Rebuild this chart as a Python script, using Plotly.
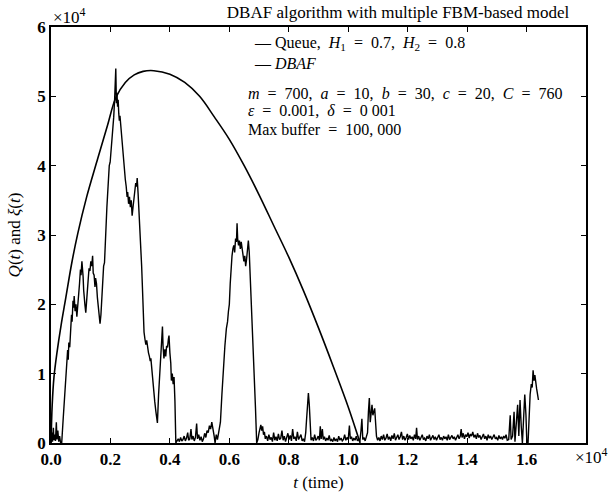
import plotly.graph_objects as go

# ---- data (units of 1e4) ----
queue_t = [
0.000,0.003,0.005,0.008,0.010,0.013,0.015,0.018,0.020,0.023,0.026,0.029,0.032,0.036,
0.041,0.046,0.050,0.053,0.056,0.058,0.060,0.063,0.066,0.069,0.071,0.074,0.076,0.078,
0.081,0.084,0.087,0.090,0.093,0.096,0.099,0.101,0.104,0.106,0.108,0.110,0.112,0.114,
0.117,0.119,0.122,0.125,0.128,0.131,0.134,0.137,0.140,0.142,0.145,0.148,0.150,0.153,
0.156,0.159,0.162,0.165,0.168,0.171,0.174,0.177,0.180,0.183,0.185,0.188,0.190,0.193,
0.196,0.199,0.202,0.205,0.208,0.211,0.214,0.216,0.218,0.220,0.222,0.224,0.226,0.228,
0.230,0.232,0.235,0.238,0.241,0.244,0.247,0.250,0.253,0.256,0.258,0.261,0.264,0.267,
0.270,0.273,0.276,0.279,0.282,0.285,0.288,0.290,0.293,0.296,0.299,0.302,0.305,0.308,
0.310,0.313,0.316,0.319,0.322,0.325,0.328,0.331,0.334,0.336,0.339,0.342,0.345,0.349,
0.353,0.358,0.362,0.366,0.369,0.372,0.375,0.377,0.380,0.383,0.386,0.389,0.392,0.395,
0.397,0.400,0.403,0.405,0.408,0.411,0.414,0.417,0.420,
0.424,0.428,0.432,0.436,0.440,0.444,0.448,0.452,0.456,0.460,0.463,0.467,0.471,0.474,
0.478,0.482,0.486,0.490,0.493,0.497,0.501,0.505,0.509,0.513,0.517,0.521,0.525,0.529,
0.533,0.537,0.541,0.545,0.549,0.552,0.556,0.560,0.564,
0.570,0.575,0.580,0.585,0.590,0.594,0.597,0.600,0.603,0.606,0.609,0.612,0.615,0.618,
0.621,0.624,0.626,0.628,0.631,0.634,0.637,0.640,0.643,0.646,0.649,0.652,0.655,0.658,
0.661,0.664,0.667,0.670,0.673,0.676,0.680,0.684,0.688,0.692,
0.696,0.700,0.703,0.706,0.709,0.712,0.715,0.718,0.721,0.725,0.729,0.733,0.737,0.741,
0.745,0.749,0.753,0.757,0.761,0.765,0.769,0.773,0.777,0.781,0.785,0.789,0.793,0.797,
0.801,0.805,0.809,0.813,0.817,0.821,0.825,0.829,0.833,0.837,0.841,0.845,0.849,0.853,
0.857,0.860,0.863,0.866,0.869,0.872,0.875,0.879,0.883,0.887,0.891,0.895,0.899,0.903,
0.906,0.909,0.913,0.916,0.920,0.924,0.928,0.932,0.936,0.940,0.944,0.948,0.952,0.956,
0.960,0.964,0.968,0.972,0.976,0.980,0.984,0.988,0.992,0.996,1.000,1.004,1.007,1.011,
1.015,1.019,1.023,1.027,1.031,1.035,1.039,1.043,1.046,1.049,1.053,1.057,1.061,1.065,
1.068,1.071,1.074,1.077,1.080,1.083,1.086,1.089,1.092,1.095,1.099,1.103,1.107,1.111,
1.115,1.119,1.123,1.127,1.131,1.135,1.139,1.143,1.147,1.151,1.155,1.159,1.163,1.167,
1.171,1.175,1.179,1.183,1.187,1.191,1.195,1.199,1.203,1.207,1.211,1.215,1.219,1.223,
1.227,1.230,1.233,1.237,1.241,1.245,1.249,1.253,1.257,1.261,1.265,1.269,1.273,1.277,
1.281,1.285,1.289,1.293,1.297,1.301,1.305,1.309,1.313,1.317,1.321,1.325,1.329,1.333,
1.337,1.341,1.345,1.349,1.353,1.357,1.361,1.365,1.369,1.373,1.377,1.380,1.383,1.387,
1.391,1.395,1.399,1.403,1.407,1.411,1.415,1.419,1.423,1.427,1.431,1.435,1.439,1.443,
1.447,1.451,1.455,1.459,1.463,1.467,1.471,1.475,1.479,1.483,1.487,1.491,1.495,1.499,
1.503,1.507,1.511,1.515,1.519,1.523,1.527,1.531,1.535,
1.540,1.545,1.548,1.553,1.558,1.561,1.566,1.570,1.574,1.578,1.582,1.586,1.590,1.594,
1.598,1.601,1.605,1.608,1.612,1.616,1.619,1.622,1.625,1.628,1.631,1.634,1.637,1.640,
]
queue_v = [
0.00,0.15,0.02,0.22,0.04,0.12,0.03,0.30,0.05,0.18,0.02,0.10,0.01,0.00,
0.35,0.70,0.95,1.15,1.34,1.20,1.45,1.38,1.60,1.85,1.75,2.05,1.95,2.12,
1.90,2.00,1.82,1.95,2.15,2.30,2.50,2.42,2.62,2.55,2.40,2.20,2.05,2.00,
1.88,2.05,2.20,2.35,2.52,2.48,2.62,2.55,2.70,2.45,2.42,2.25,2.38,2.30,
2.10,1.95,1.80,1.72,1.85,2.10,2.35,2.55,2.60,3.00,3.27,3.40,3.55,3.85,
4.00,4.05,4.20,4.35,4.50,4.70,4.95,5.15,5.40,4.90,5.05,4.85,4.95,4.75,
4.65,4.72,4.55,4.35,4.20,4.05,3.95,3.80,3.70,3.55,3.62,3.45,3.55,3.40,
3.50,3.28,3.40,3.55,3.65,3.75,3.70,3.82,3.60,3.35,3.10,2.93,2.55,2.20,
1.90,1.60,1.50,1.42,1.48,1.35,1.30,1.25,1.18,1.22,1.05,0.90,0.75,0.60,
0.45,0.29,0.70,1.05,1.30,1.45,1.68,1.40,1.22,1.35,1.25,1.40,1.38,1.50,
1.55,1.30,1.15,0.90,1.00,0.85,0.95,0.60,0.00,
0.03,0.06,0.02,0.08,0.03,0.05,0.10,0.03,0.07,0.15,0.04,0.06,0.20,0.05,
0.10,0.03,0.08,0.28,0.06,0.12,0.04,0.09,0.02,0.06,0.14,0.08,0.18,0.15,
0.25,0.20,0.30,0.22,0.10,0.00,0.12,0.05,0.15,
0.30,0.70,1.10,1.40,1.65,1.75,1.90,2.00,2.30,2.55,2.70,2.80,2.85,2.75,
2.95,2.90,3.17,2.95,2.85,2.92,2.80,2.90,2.78,2.70,2.62,2.70,2.55,2.65,
2.80,2.92,2.75,2.45,2.10,1.80,1.55,1.00,0.50,0.00,
0.05,0.15,0.22,0.26,0.18,0.24,0.12,0.16,0.06,0.10,0.03,0.12,0.05,0.08,
0.02,0.15,0.04,0.09,0.03,0.13,0.05,0.07,0.18,0.04,0.10,0.02,0.08,0.14,
0.05,0.11,0.03,0.20,0.06,0.09,0.03,0.16,0.05,0.08,0.12,0.03,0.06,0.02,
0.15,0.35,0.60,0.72,0.55,0.25,0.04,0.08,0.03,0.12,0.04,0.06,0.10,0.04,
0.24,0.06,0.20,0.05,0.09,0.03,0.07,0.04,0.11,0.03,0.05,0.02,0.08,0.03,
0.06,0.02,0.10,0.04,0.07,0.03,0.05,0.12,0.04,0.08,0.05,0.25,0.06,0.09,
0.03,0.07,0.04,0.10,0.03,0.06,0.02,0.18,0.35,0.05,0.08,0.03,0.10,0.15,
0.45,0.65,0.30,0.50,0.55,0.40,0.48,0.50,0.30,0.10,0.04,0.08,0.03,0.10,
0.05,0.12,0.04,0.07,0.13,0.05,0.09,0.03,0.11,0.06,0.14,0.04,0.08,0.12,
0.05,0.09,0.16,0.05,0.10,0.04,0.08,0.13,0.05,0.11,0.06,0.09,0.04,0.12,
0.06,0.22,0.05,0.10,0.04,0.08,0.12,0.05,0.07,0.03,0.10,0.06,0.12,0.04,
0.08,0.11,0.05,0.09,0.04,0.07,0.12,0.05,0.08,0.04,0.10,0.06,0.09,0.04,
0.12,0.05,0.08,0.11,0.06,0.09,0.04,0.07,0.12,0.06,0.10,0.20,0.08,0.14,
0.06,0.12,0.09,0.15,0.07,0.13,0.10,0.16,0.08,0.12,0.06,0.14,0.08,0.11,
0.05,0.09,0.13,0.06,0.10,0.04,0.12,0.07,0.10,0.05,0.09,0.12,0.06,0.08,
0.04,0.11,0.06,0.09,0.05,0.10,0.07,0.12,0.04,
0.05,0.40,0.05,0.10,0.45,0.02,0.30,0.55,0.10,0.62,0.25,0.00,0.35,0.70,
0.40,0.00,0.00,0.45,0.70,0.85,0.80,1.05,0.90,0.98,0.85,0.78,0.70,0.62,
]

dbaf_t = [0.000,0.004,0.010,0.020,0.034,0.050,0.070,0.090,0.120,0.157,0.190,0.218,0.250,
          0.280,0.310,0.346,0.400,0.450,0.500,0.550,0.600,0.650,0.700,0.750,0.800,
          0.850,0.900,0.950,1.000,1.040]
dbaf_v = [0.00,0.55,0.95,1.30,1.70,2.10,2.60,3.02,3.55,4.10,4.58,4.98,5.20,
          5.31,5.36,5.37,5.32,5.20,5.00,4.70,4.38,4.00,3.58,3.13,2.68,
          2.19,1.66,1.10,0.52,0.00]

x_tick_vals = [0.0,0.2,0.4,0.6,0.8,1.0,1.2,1.4,1.6]
x_tick_text = ["0.0","0.2","0.4","0.6","0.8","1.0","1.2","1.4","1.6"]
y_tick_vals = [0,1,2,3,4,5,6]
y_tick_text = ["0","1","2","3","4","5","6"]

SERIF = "Liberation Serif"
W, H = 609, 492
L, R, T, B = 51, 586, 27, 443

def px(xp):
    return (xp - L) / (R - L)

def py(yp):
    return (B - yp) / (B - T)

fig = go.Figure()
fig.add_trace(go.Scatter(x=queue_t, y=queue_v, mode="lines",
                         line=dict(color="black", width=1.4), name="Queue",
                         showlegend=False))
fig.add_trace(go.Scatter(x=dbaf_t, y=dbaf_v, mode="lines", line_shape="spline",
                         line=dict(color="black", width=1.6), name="DBAF",
                         showlegend=False))

ann = []
def txt(x, y, s, size=16, xanchor="left", **kw):
    ann.append(dict(x=px(x), y=py(y), xref="paper", yref="paper", text=s,
                    showarrow=False, xanchor=xanchor, yanchor="middle",
                    font=dict(family=SERIF, size=size, color="black"), **kw))

EQ = "\u2002=\u2002"
CM = ",\u2002"
txt(252, 44, "— Queue" + CM + "<i>H</i><sub>1</sub>" + EQ + "0.7" + CM + "<i>H</i><sub>2</sub>" + EQ + "0.8", 16)
txt(252, 63, "— <i>DBAF</i>", 16)
txt(246, 93, "<i>m</i>" + EQ + "700" + CM + "<i>a</i>" + EQ + "10" + CM + "<i>b</i>" + EQ + "30"
    + CM + "<i>c</i>" + EQ + "20" + CM + "<i>C</i>" + EQ + "760", 16)
txt(246, 111, "<i>ε</i>" + EQ + "0.001" + CM + "<i>δ</i>" + EQ + "0 001", 16)
txt(246, 129, "Max buffer" + EQ + "100, 000", 16)
txt(51, 16, "×10<sup>4</sup>", 17)
txt(573, 456, "×10<sup>4</sup>", 17)

fig.update_layout(
    width=W, height=H,
    margin=dict(l=L, r=W - R, t=T, b=H - B, pad=0, autoexpand=False),
    paper_bgcolor="white", plot_bgcolor="white",
    title=dict(text="DBAF algorithm with multiple FBM-based model",
               x=px(398), xref="paper", xanchor="center",
               y=1 - 12 / H, yref="container", yanchor="middle",
               font=dict(family=SERIF, size=17, color="black")),
    annotations=ann,
    xaxis=dict(range=[0, 1.8], tickvals=x_tick_vals, ticktext=x_tick_text,
               ticks="inside", ticklen=5, tickwidth=1.2, tickcolor="black",
               showline=True, linecolor="black", linewidth=1.6, mirror="ticks",
               showgrid=False, zeroline=False, automargin=False,
               tickfont=dict(family=SERIF, size=17, color="black", weight="bold"),
               title=dict(text="<i>t</i> (time)", standoff=12,
                          font=dict(family=SERIF, size=17, color="black"))),
    yaxis=dict(range=[0, 6], tickvals=y_tick_vals, ticktext=y_tick_text,
               ticks="inside", ticklen=5, tickwidth=1.2, tickcolor="black",
               showline=True, linecolor="black", linewidth=1.6, mirror="ticks",
               showgrid=False, zeroline=False, automargin=False,
               tickfont=dict(family=SERIF, size=17, color="black", weight="bold"),
               title=dict(text="<i>Q</i>(<i>t</i>) and <i>ξ</i>(<i>t</i>)", standoff=12,
                          font=dict(family=SERIF, size=17, color="black"))),
)

fig.write_html("out.html", config={"displayModeBar": False},
               post_script="document.body.style.margin='0';")
